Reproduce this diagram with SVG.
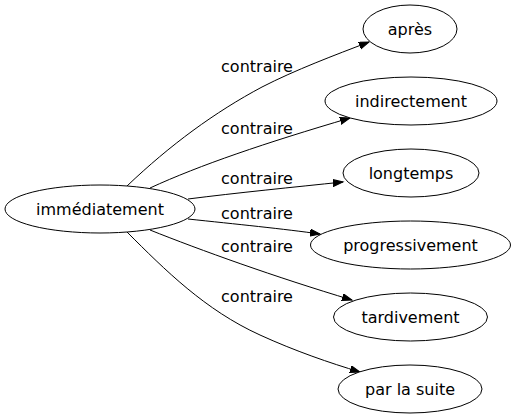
<svg xmlns="http://www.w3.org/2000/svg" width="516" height="419" viewBox="0 0 516 419">
<style>
.n ellipse{fill:#fff;stroke:#000;stroke-width:1}
text{font-family:"DejaVu Sans",sans-serif;font-size:16px;fill:#000;text-anchor:middle}
.e path{fill:none;stroke:#000;stroke-width:1;marker-end:url(#ah)}
</style>
<defs>
<marker id="ah" markerUnits="userSpaceOnUse" markerWidth="12" markerHeight="10" refX="10" refY="3.5" orient="auto">
<path d="M0,0 L10,3.5 L0,7 Z" fill="#000" stroke="#000"/>
</marker>
</defs>
<rect width="516" height="419" fill="#fff"/>
<g class="e" id="edges">
<path d="M127,186 C170,145 215,112 262,87 C295,70 335,55 369,42"/>
<path d="M150,188 C200,165 265,143 350,118"/>
<path d="M188,199 C235,193 295,187 343,182"/>
<path d="M188,219 C235,224 285,229 320,234"/>
<path d="M150,230 C200,250 275,277 352,300"/>
<path d="M127,232 C165,270 205,310 260,335 C295,351 330,363 360,372"/>
</g>
<g id="labels">
<text x="257" y="72">contraire</text>
<text x="257" y="134">contraire</text>
<text x="257" y="184">contraire</text>
<text x="257" y="219">contraire</text>
<text x="257" y="252">contraire</text>
<text x="257" y="302">contraire</text>
</g>
<g class="n" id="n0"><ellipse cx="100" cy="209" rx="95" ry="24"/><text x="100" y="215">immédiatement</text></g>
<g class="n" id="n1"><ellipse cx="410" cy="29" rx="47" ry="24"/><text x="410" y="35">après</text></g>
<g class="n" id="n2"><ellipse cx="411" cy="101" rx="86" ry="24"/><text x="411" y="107">indirectement</text></g>
<g class="n" id="n3"><ellipse cx="411" cy="173" rx="68" ry="24"/><text x="411" y="179">longtemps</text></g>
<g class="n" id="n4"><ellipse cx="410.5" cy="245" rx="100" ry="24"/><text x="410.5" y="251">progressivement</text></g>
<g class="n" id="n5"><ellipse cx="410.5" cy="317" rx="77" ry="24"/><text x="410.5" y="323">tardivement</text></g>
<g class="n" id="n6"><ellipse cx="410" cy="389" rx="72" ry="24"/><text x="410" y="395">par la suite</text></g>
</svg>
